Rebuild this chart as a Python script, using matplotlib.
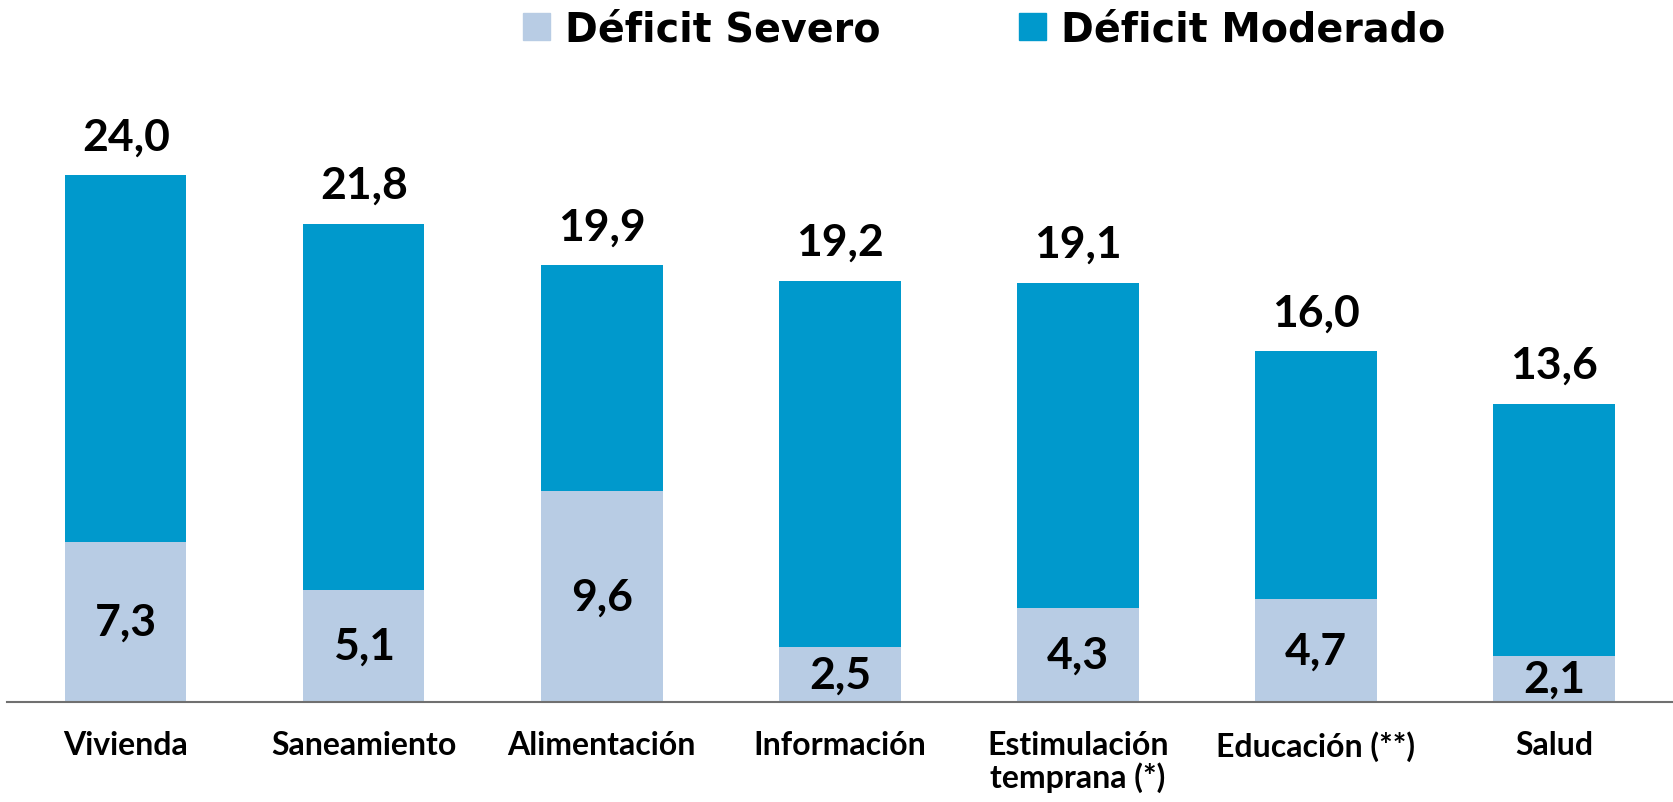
import matplotlib.pyplot as plt
from matplotlib.patches import Patch
import numpy as np

categories = ["Vivienda", "Saneamiento", "Alimentación", "Información",
              "Estimulación\ntemprana (*)", "Educación (**)", "Salud"]
severo = [7.3, 5.1, 9.6, 2.5, 4.3, 4.7, 2.1]
total = [24.0, 21.8, 19.9, 19.2, 19.1, 16.0, 13.6]
moderado = [t - s for t, s in zip(total, severo)]

c_sev = "#b8cce4"
c_mod = "#0099cc"

plt.rcParams["font.family"] = ["Lato", "DejaVu Sans"]
plt.rcParams["font.weight"] = "bold"

fig = plt.figure(figsize=(16.73, 8.03), dpi=100)
ax = fig.add_axes([0.004, 0.1245, 0.996, 0.8255])

x = np.arange(len(categories))
ax.bar(x, severo, width=0.51, color=c_sev)
ax.bar(x, moderado, width=0.51, bottom=severo, color=c_mod)

# labels inside the light segment and totals above
for xi, s, t in zip(x, severo, total):
    ax.text(xi, s / 2, f"{s:.1f}".replace(".", ","), ha="center", va="center",
            fontsize=32, fontweight="bold")
    ax.text(xi, t + 0.85, f"{t:.1f}".replace(".", ","), ha="center", va="bottom",
            fontsize=32, fontweight="bold")

ax.set_xlim(-0.5, 6.5)
ax.set_ylim(0, 30.2)
ax.set_xticks(x)
ax.set_xticklabels(categories, fontsize=23, fontweight="bold", linespacing=1.1,
                   va="top")
ax.tick_params(axis="x", length=0, pad=20)
ax.set_yticks([])
for side in ["top", "right", "left"]:
    ax.spines[side].set_visible(False)
ax.spines["bottom"].set_color("#707070")
ax.spines["bottom"].set_linewidth(1.5)

handles = [Patch(color=c_sev, label="Déficit Severo"),
           Patch(color=c_mod, label="Déficit Moderado")]
fig.legend(handles=handles, loc="center", bbox_to_anchor=(0.588, 0.962), ncol=2,
           frameon=False, handlelength=0.68, handleheight=0.68,
           handletextpad=0.38, columnspacing=3.5,
           prop={"family": "DejaVu Sans", "size": 28.5, "weight": "bold"})

fig.savefig("out.png", dpi=100)
